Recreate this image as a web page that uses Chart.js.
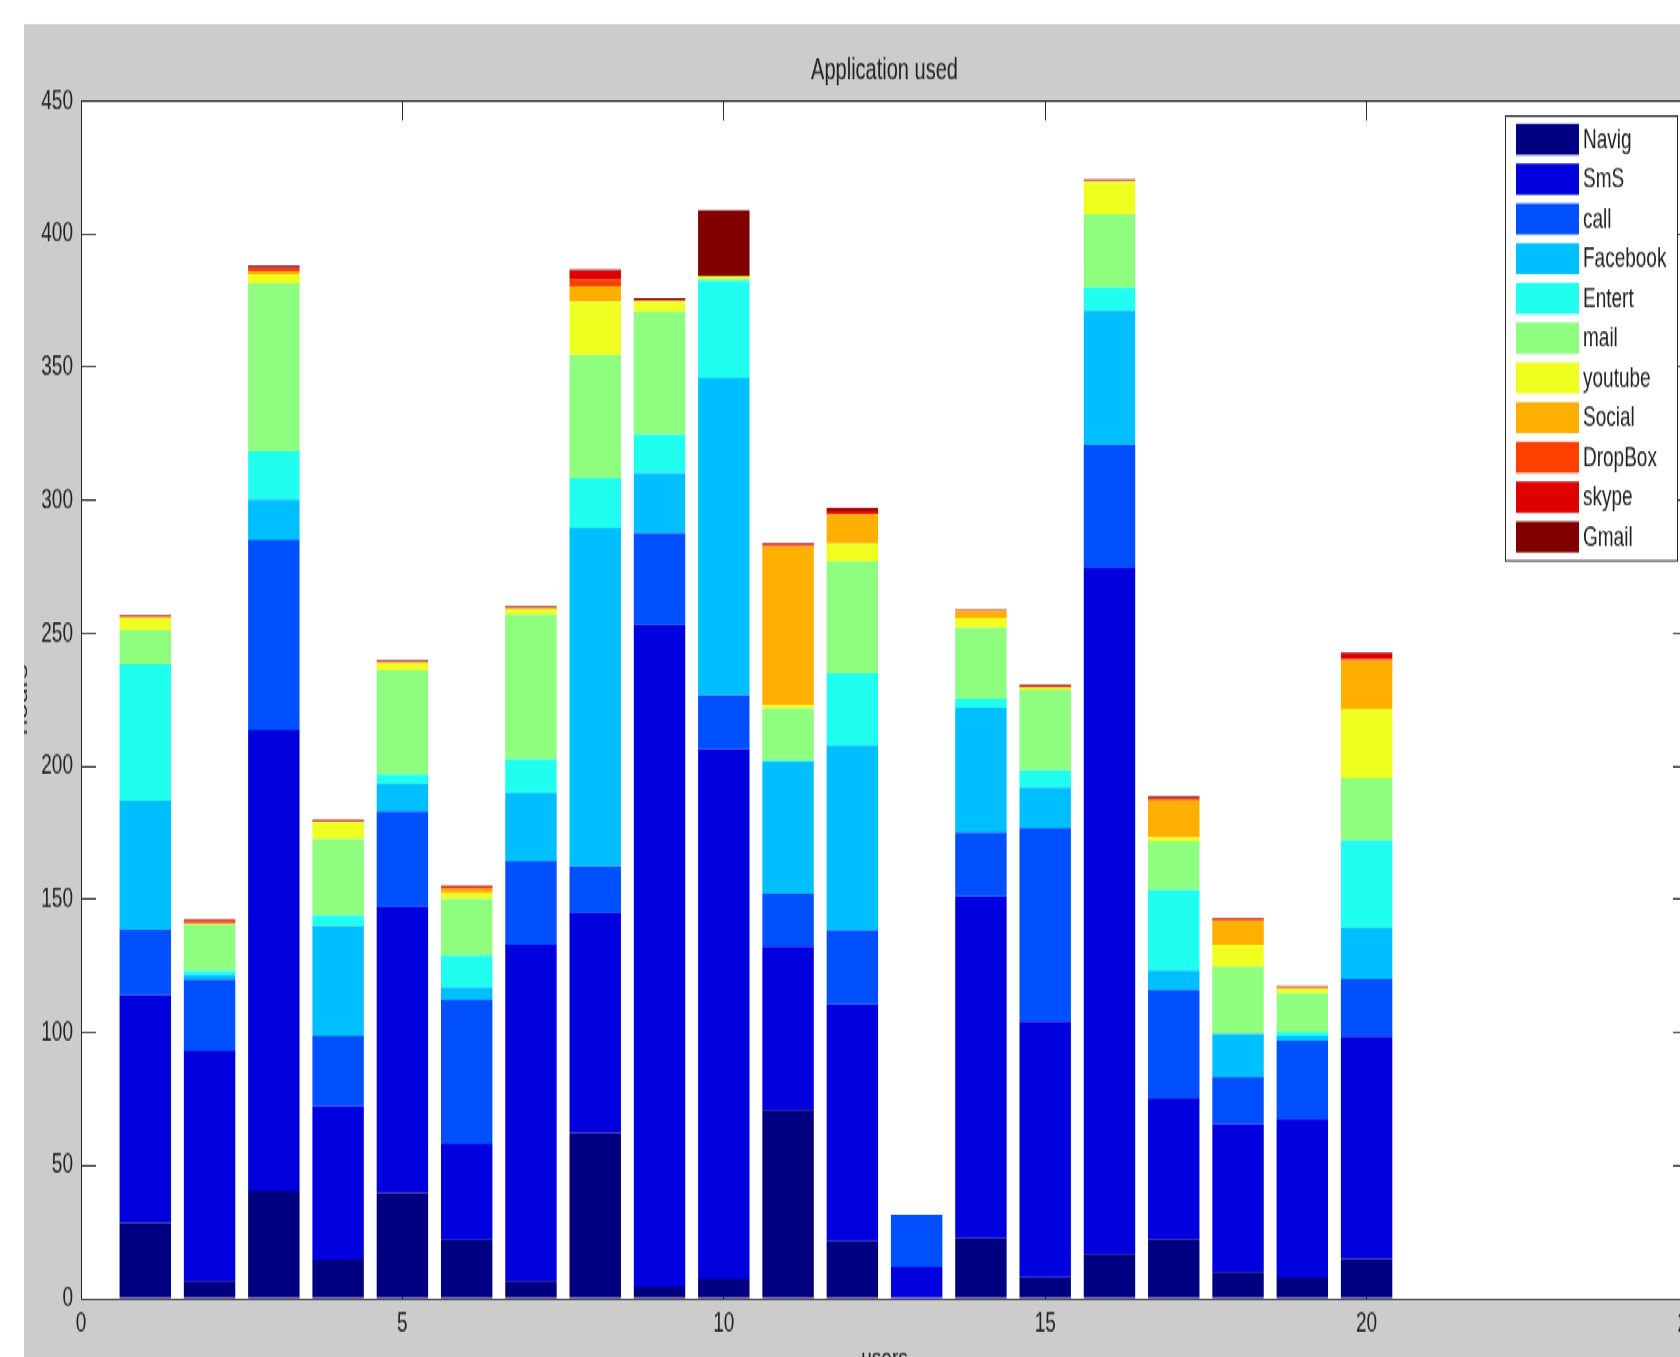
<!DOCTYPE html>
<html><head><meta charset="utf-8">
<script src="https://cdn.jsdelivr.net/npm/chart.js@4.4.0/dist/chart.umd.min.js"></script>
<style>
html,body{margin:0;padding:0;background:#fff;width:1680px;height:1357px;overflow:hidden;}
#stage{position:absolute;left:0;top:0;width:1680px;height:905px;transform-origin:0 0;transform:scaleY(1.4994475);}
#fig{position:absolute;left:24px;top:16px;width:1656px;height:889px;background:#cccccc;overflow:hidden;}
#wrap{position:absolute;left:-60px;top:0;width:1754px;height:902px;}
canvas{display:block;}
</style></head><body>
<div id="stage"><div id="fig"><div id="wrap"><canvas id="c" width="1754" height="902" style="width:1754px;height:902px"></canvas></div></div></div>
<script>
// ---- data (hours per application, per user) ----
const users   = [1,2,3,4,5,6,7,8,9,10,11,12,13,14,15,16,17,18,19,20];
const Navig   = [28.4, 6.6, 40.5, 14.7, 39.7, 22.1, 6.6, 62.2, 4.5, 7.3, 70.8, 21.6, 0, 22.7, 8, 16.8, 22.3, 10, 7.9, 14.9];
const SmS     = [85.7, 86.4, 173, 57.6, 107.5, 35.9, 126.3, 82.7, 248.6, 199, 61.4, 88.9, 11.8, 128.4, 96.1, 258, 53, 55.7, 59.5, 83.6];
const call    = [24.5, 26.9, 71.6, 26.3, 35.8, 54.1, 31.5, 17.5, 34.5, 20.4, 19.9, 27.8, 19.7, 24, 72.7, 46, 40.6, 17.5, 29.5, 21.5];
const Facebook= [48.4, 1.6, 15.1, 41.4, 10.4, 4.8, 25.6, 127.2, 22.6, 119.2, 49.7, 69.4, 0, 46.9, 15.2, 50.3, 7.4, 16.2, 1.7, 19.3];
const Entert  = [51.3, 1.6, 18.2, 4, 3.5, 12, 12.5, 18.6, 14.5, 36.5, 0.3, 27.2, 0, 3.4, 6.4, 8.8, 30.2, 0.2, 1.5, 32.8];
const mail    = [13, 17.3, 63.1, 28.7, 39.2, 21.2, 54.6, 46.3, 46.1, 0.9, 19.6, 42.1, 0, 26.7, 30.4, 27.4, 18.4, 25, 14.5, 23.4];
const youtube = [4.5, 0.2, 3.3, 6.3, 2.7, 2.2, 2, 20, 3.7, 1.0, 1.3, 6.7, 0, 3.7, 0.5, 12.3, 1.3, 8.3, 1.7, 25.9];
const Social  = [0.3, 0.4, 1.2, 0.2, 0.3, 1.6, 0.3, 5.8, 0.4, 0, 59.6, 10.8, 0, 2.6, 0.4, 0.2, 14, 9.1, 0.4, 18.3];
const DropBox = [0.2, 0.6, 0.7, 0.1, 0.1, 0.5, 0.1, 2.5, 0.2, 0, 0.5, 0.8, 0, 0.1, 0.1, 0.1, 0.4, 0.4, 0.1, 0.6];
const skype   = [0.1, 0.5, 0.6, 0.1, 0.1, 0.4, 0.1, 3.3, 0.2, 0, 0.4, 1.0, 0, 0.1, 0.2, 0.1, 0.4, 0.3, 0.1, 2.2];
const Gmail   = [0.4, 0.3, 0.8, 0.5, 0.6, 0.3, 0.5, 0.5, 0.5, 24.6, 0.4, 0.8, 0, 0.3, 0.6, 0.5, 0.6, 0.3, 0.5, 0.4];

const seriesNames  = ['Navig','SmS','call','Facebook','Entert','mail','youtube','Social','DropBox','skype','Gmail'];
const seriesValues = [Navig, SmS, call, Facebook, Entert, mail, youtube, Social, DropBox, skype, Gmail];
const seriesColors = ['#000080','#0000DF','#0050FF','#00BFFF','#20FFEF','#8FFF80','#EFFF20','#FFAF00','#FF4000','#DF0000','#800000'];

const xTicks = [0,5,10,15,20,25];
const yTicks = [0,50,100,150,200,250,300,350,400,450];

const FONT = '"Liberation Sans", Arial, Helvetica, sans-serif';
const TXT = '#222222';
const AX = '#2a2a2a';
Chart.defaults.font.family = FONT;
Chart.defaults.color = TXT;

const datasets = seriesNames.map((name, k) => ({
  label: name,
  data: users.map((u, i) => ({x: u, y: seriesValues[k][i]})),
  backgroundColor: seriesColors[k],
  borderWidth: 0,
  barPercentage: 0.8,
  categoryPercentage: 1.0
}));

const plotBg = {
  id: 'plotBg',
  beforeDraw(chart) {
    const {ctx, chartArea: a} = chart;
    ctx.save();
    ctx.fillStyle = '#ffffff';
    ctx.fillRect(a.left, a.top, a.right - a.left, a.bottom - a.top);
    ctx.restore();
  }
};

const boxLegend = {
  id: 'boxLegend',
  afterDraw(chart) {
    const {ctx, chartArea: a} = chart;
    const w = 172, h = 296.6;
    const x0 = a.right - 11 - w, y0 = a.top + 9.4;
    ctx.save();
    ctx.fillStyle = '#ffffff';
    ctx.fillRect(x0, y0, w, h);
    ctx.strokeStyle = AX; ctx.lineWidth = 1;
    ctx.strokeRect(Math.round(x0) + 0.5, Math.round(y0) + 0.5, w, h);
    ctx.font = '19px ' + FONT;
    ctx.textBaseline = 'middle'; ctx.textAlign = 'left';
    chart.data.datasets.forEach((ds, i) => {
      const sy = y0 + 6 + i * 26.5;
      ctx.fillStyle = ds.backgroundColor;
      ctx.fillRect(x0 + 11, sy, 63, 20.7);
      ctx.fillStyle = TXT;
      ctx.fillText(ds.label, x0 + 78, sy + 10.6);
    });
    ctx.restore();
  }
};

const tickVals = (arr) => (scale) => { scale.ticks = arr.map(v => ({value: v})); };

new Chart(document.getElementById('c'), {
  type: 'bar',
  data: { datasets },
  plugins: [plotBg, boxLegend],
  options: {
    responsive: false,
    devicePixelRatio: 1,
    animation: false,
    layout: { padding: { left: 0, top: 0, right: 30, bottom: 0 } },
    plugins: {
      legend: { display: false },
      tooltip: { enabled: false },
      title: {
        display: true, text: 'Application used', position: 'top', fullSize: false,
        color: TXT, font: { size: 20, weight: 'normal', lineHeight: 1.2 },
        padding: { top: 19.7, bottom: 7.6 }
      }
    },
    scales: {
      x: {
        type: 'linear', position: 'bottom', min: 0, max: 25, stacked: true, offset: false,
        afterBuildTicks: tickVals(xTicks),
        afterFit(scale) { scale.height = 52; },
        ticks: { font: { size: 19 }, color: TXT, padding: 18, maxRotation: 0, autoSkip: false },
        grid: { offset: false, drawOnChartArea: false, drawTicks: true, tickLength: -13, color: AX, lineWidth: 1 },
        border: { display: true, color: AX, width: 1, z: 1 },
        title: { display: true, text: 'users', color: TXT, font: { size: 19, lineHeight: 1.2 }, padding: { top: 0, bottom: 0 } }
      },
      x2: {
        type: 'linear', position: 'top', min: 0, max: 25, offset: false,
        afterBuildTicks: tickVals(xTicks),
        afterFit(scale) { scale.height = 0; },
        ticks: { display: false },
        grid: { offset: false, drawOnChartArea: false, drawTicks: true, tickLength: -13, color: AX, lineWidth: 1 },
        border: { display: true, color: AX, width: 1, z: 1 }
      },
      y: {
        type: 'linear', position: 'left', min: 0, max: 450, stacked: true,
        afterBuildTicks: tickVals(yTicks),
        afterFit(scale) { scale.width = 117; },
        ticks: { font: { size: 19 }, color: TXT, padding: 23 },
        grid: { drawOnChartArea: false, drawTicks: true, tickLength: -15, color: AX, lineWidth: 1 },
        border: { display: true, color: AX, width: 1, z: 1 },
        title: { display: true, text: 'hours', color: TXT, font: { size: 19, lineHeight: 1.2 }, padding: { top: 46, bottom: 0 } }
      },
      y2: {
        type: 'linear', position: 'right', min: 0, max: 450,
        afterBuildTicks: tickVals(yTicks),
        afterFit(scale) { scale.width = 0; },
        ticks: { display: false },
        grid: { drawOnChartArea: false, drawTicks: true, tickLength: -15, color: AX, lineWidth: 1 },
        border: { display: true, color: AX, width: 1, z: 1 }
      }
    }
  }
});
</script>
</body></html>
